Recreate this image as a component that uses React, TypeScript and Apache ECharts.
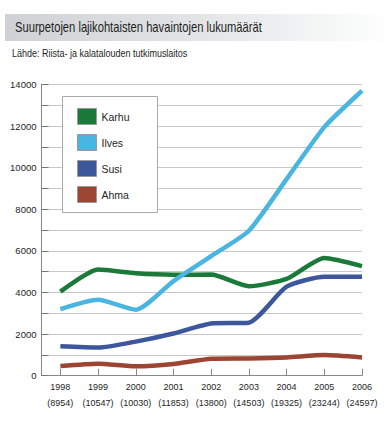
import React, { useEffect, useRef } from "react";
import * as echarts from "echarts";

const years = [1998, 1999, 2000, 2001, 2002, 2003, 2004, 2005, 2006];
const totals = [8954, 10547, 10030, 11853, 13800, 14503, 19325, 23244, 24597];
const karhu = [4040, 5100, 4920, 4850, 4860, 4300, 4650, 5660, 5270];
const ilves = [3200, 3650, 3170, 4550, 5750, 6970, 9450, 11950, 13700];
const susi = [1410, 1350, 1640, 2030, 2510, 2550, 4280, 4760, 4760];
const ahma = [465, 575, 450, 560, 810, 830, 880, 990, 880];

const titleText = "Suurpetojen lajikohtaisten havaintojen lukumäärät";
const sourceText = "Lähde: Riista- ja kalatalouden tutkimuslaitos";

const FONT = "'Liberation Sans', Arial, sans-serif";

const seriesDefs = [
  { name: "Karhu", data: karhu, color: "#1b7a3a" },
  { name: "Ilves", data: ilves, color: "#4ab5e0" },
  { name: "Susi", data: susi, color: "#3d579c" },
  { name: "Ahma", data: ahma, color: "#9c4533" },
];

export default function App() {
  const ref = useRef<HTMLDivElement>(null);
  useEffect(() => {
    if (!ref.current) return;
    const chart = echarts.init(ref.current, undefined, { renderer: "svg" });
    chart.setOption({
      animation: false,
      textStyle: { fontFamily: FONT },
      graphic: [
        {
          type: "rect",
          shape: { x: 5, y: 14, width: 387, height: 27 },
          style: {
            fill: new echarts.graphic.LinearGradient(0, 0, 1, 0, [
              { offset: 0, color: "#cfd2d4" },
              { offset: 0.5, color: "#e2e4e5" },
              { offset: 1, color: "#ffffff" },
            ]),
          },
          z: 1,
        },
        {
          type: "text",
          x: 15,
          y: 27.5,
          scaleX: 0.8,
          style: {
            text: titleText,
            fontFamily: FONT,
            fontSize: 14,
            fill: "#1e1e1e",
            verticalAlign: "middle",
          },
          z: 2,
        },
        {
          type: "text",
          x: 12,
          y: 53,
          scaleX: 0.9,
          style: {
            text: sourceText,
            fontFamily: FONT,
            fontSize: 10,
            fill: "#1e1e1e",
            verticalAlign: "middle",
          },
          z: 2,
        },
        {
          type: "rect",
          shape: { x: 62.5, y: 96.5, width: 95, height: 116 },
          style: { fill: "#ffffff", stroke: "#aaaaaa", lineWidth: 1 },
          z: 3,
        },
      ],
      legend: {
        orient: "vertical",
        left: 77,
        top: 108,
        padding: 0,
        itemWidth: 19,
        itemHeight: 16,
        itemGap: 9,
        icon: "rect",
        itemStyle: { borderColor: "#999999", borderWidth: 1 },
        textStyle: { fontFamily: FONT, fontSize: 10.5, color: "#1e1e1e" },
        data: seriesDefs.map((s) => s.name),
        z: 4,
      },
      grid: { left: 41.5, right: 30, top: 84.5, bottom: 48.3, containLabel: false },
      xAxis: {
        type: "value",
        min: 1997.5,
        max: 2006,
        axisLine: { show: true, lineStyle: { color: "#888888", width: 1 } },
        axisTick: {
          show: true,
          inside: true,
          length: 7,
          customValues: years,
          lineStyle: { color: "#888888" },
        },
        axisLabel: {
          customValues: years,
          margin: 3,
          fontSize: 9,
          lineHeight: 16,
          color: "#1e1e1e",
          fontFamily: FONT,
          formatter: (v: number) => {
            const i = years.indexOf(Math.round(v));
            return i >= 0 ? `${years[i]}\n(${totals[i]})` : "";
          },
        },
        splitLine: { show: false },
      },
      yAxis: {
        type: "value",
        min: 0,
        max: 14000,
        interval: 1000,
        axisLine: { show: true, lineStyle: { color: "#888888", width: 1 } },
        axisTick: { show: true, inside: true, length: 7, lineStyle: { color: "#777777" } },
        axisLabel: {
          margin: 5,
          fontSize: 9.5,
          color: "#1e1e1e",
          fontFamily: FONT,
          formatter: (v: number) => (v % 2000 === 0 ? String(v) : ""),
        },
        splitLine: { show: true, lineStyle: { color: "#c8c8c8", width: 1 } },
      },
      series: seriesDefs.map((s) => ({
        name: s.name,
        type: "line",
        data: s.data.map((v, i) => [years[i], v]),
        smooth: 0.2,
        showSymbol: false,
        symbol: "none",
        lineStyle: { color: s.color, width: 4.5 },
        itemStyle: { color: s.color },
        z: 2,
      })),
    });
    return () => chart.dispose();
  }, []);
  return (
    <div
      ref={ref}
      style={{ position: "fixed", left: 0, top: 0, width: 392, height: 424, background: "#ffffff" }}
    />
  );
}
